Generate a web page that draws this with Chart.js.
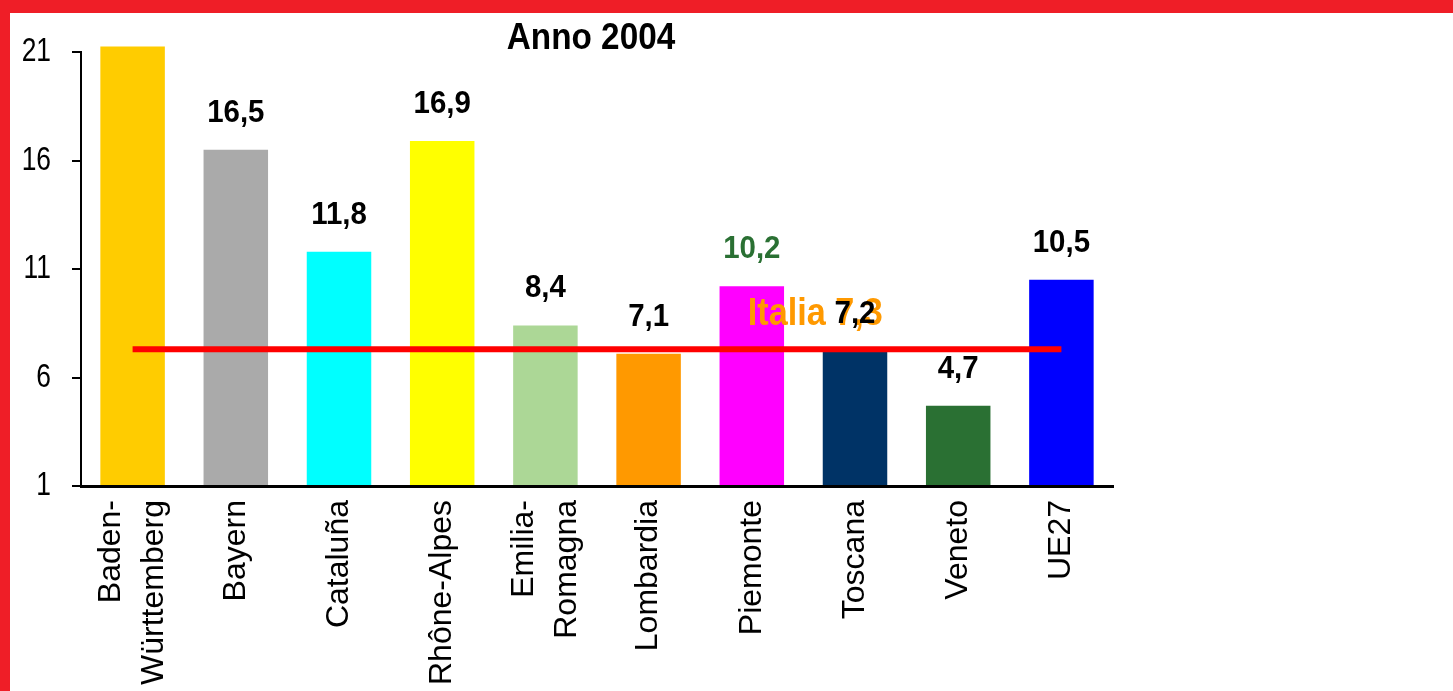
<!DOCTYPE html>
<html>
<head>
<meta charset="utf-8">
<script src="https://cdn.jsdelivr.net/npm/chart.js@4/dist/chart.umd.min.js"></script>
<style>
  html, body { margin: 0; padding: 0; background: #fff; overflow: hidden; }
  #wrap { width: 1443px; height: 678px; border-top: 13px solid #ef1e27; border-left: 10px solid #ef1e27; }
  canvas { display: block; }
</style>
</head>
<body>
<div id="wrap"><canvas id="chart" width="1443" height="678"></canvas></div>
<script>
// data
const regions = [['Baden-', 'Württemberg'], ['Bayern'], ['Cataluña'], ['Rhône-Alpes'], ['Emilia-', 'Romagna'],
  ['Lombardia'], ['Piemonte'], ['Toscana'], ['Veneto'], ['UE27']];
const values = [21.25, 16.5, 11.8, 16.9, 8.4, 7.1, 10.2, 7.2, 4.7, 10.5];
const valueLabels = [null, '16,5', '11,8', '16,9', '8,4', '7,1', '10,2', '7,2', '4,7', '10,5'];
const italia = 7.3;
const italiaLabel = 'Italia 7,3';
const barColors = ['#ffcc00', '#aaaaaa', '#00ffff', '#ffff00', '#acd796', '#ff9900', '#ff00ff', '#003366', '#2a7033', '#0000ff'];
const labelColors = ['#000', '#000', '#000', '#000', '#000', '#000', '#2a7033', '#000', '#000', '#000'];
const yTicks = [1, 6, 11, 16, 21];

const SANS = "'Liberation Sans', Arial, sans-serif";

// text squeezed horizontally, like the narrow font of the original
function squeezed(ctx, text, x, y, sx) {
  ctx.save();
  ctx.translate(x, y);
  ctx.scale(sx, 1);
  ctx.fillText(text, 0, 0);
  ctx.restore();
}

const decorations = {
  id: 'decorations',
  afterDatasetsDraw(chart) {
    const ctx = chart.ctx;
    const x = chart.scales.x, y = chart.scales.y;
    const area = chart.chartArea;
    ctx.save();

    // title
    ctx.fillStyle = '#000';
    ctx.font = 'bold 37px ' + SANS;
    ctx.textAlign = 'center';
    ctx.textBaseline = 'alphabetic';
    squeezed(ctx, 'Anno 2004', (area.left + area.right) / 2 - 6, 36, 0.9);

    // y tick labels
    ctx.font = '33px ' + SANS;
    ctx.textAlign = 'right';
    ctx.textBaseline = 'middle';
    yTicks.forEach(v => squeezed(ctx, String(v), area.left - 30, y.getPixelForValue(v), 0.8));

    // Italia label
    ctx.fillStyle = '#ff9900';
    ctx.font = 'bold 38px ' + SANS;
    ctx.textAlign = 'left';
    ctx.textBaseline = 'alphabetic';
    squeezed(ctx, italiaLabel, x.getPixelForValue(6) - 4, y.getPixelForValue(italia) - 24, 0.9);

    // value labels
    ctx.font = 'bold 32px ' + SANS;
    ctx.textAlign = 'center';
    values.forEach((v, i) => {
      if (!valueLabels[i]) return;
      ctx.fillStyle = labelColors[i];
      squeezed(ctx, valueLabels[i], x.getPixelForValue(i), y.getPixelForValue(v) - 28, 0.92);
    });

    // category labels, rotated
    ctx.fillStyle = '#000';
    ctx.font = '32px ' + SANS;
    ctx.textAlign = 'right';
    ctx.textBaseline = 'middle';
    regions.forEach((lines, i) => {
      const cx = x.getPixelForValue(i);
      lines.forEach((line, j) => {
        ctx.save();
        ctx.translate(cx + (j - (lines.length - 1) / 2) * 43, area.bottom + 14);
        ctx.rotate(-Math.PI / 2);
        ctx.fillText(line, 0, 0);
        ctx.restore();
      });
    });
    ctx.restore();
  }
};

new Chart(document.getElementById('chart'), {
  type: 'bar',
  data: {
    labels: regions.map(l => l.join(' ')),
    datasets: [{
      type: 'line',
      data: values.map(() => italia),
      borderColor: '#ff0000',
      borderWidth: 6,
      pointRadius: 0,
      order: 0
    }, {
      data: values,
      base: 1,
      backgroundColor: barColors,
      barPercentage: 0.625,
      categoryPercentage: 1,
      clip: false,
      order: 1
    }]
  },
  options: {
    responsive: false,
    animation: false,
    layout: { padding: { top: 39, right: 340, left: 0, bottom: 0 } },
    plugins: { legend: { display: false }, tooltip: { enabled: false } },
    scales: {
      x: {
        offset: true,
        grid: { display: false },
        border: { display: true, color: '#000', width: 3 },
        ticks: { display: false },
        afterFit(s) { s.height = 205; }
      },
      y: {
        min: 1,
        max: 21,
        afterBuildTicks(s) { s.ticks = yTicks.map(v => ({ value: v })); },
        grid: { drawOnChartArea: false, color: '#000', lineWidth: 2, tickLength: 9 },
        border: { display: true, color: '#000', width: 2 },
        ticks: { display: false },
        afterFit(s) { s.width = 71; }
      }
    }
  },
  plugins: [decorations]
});
</script>
</body>
</html>
